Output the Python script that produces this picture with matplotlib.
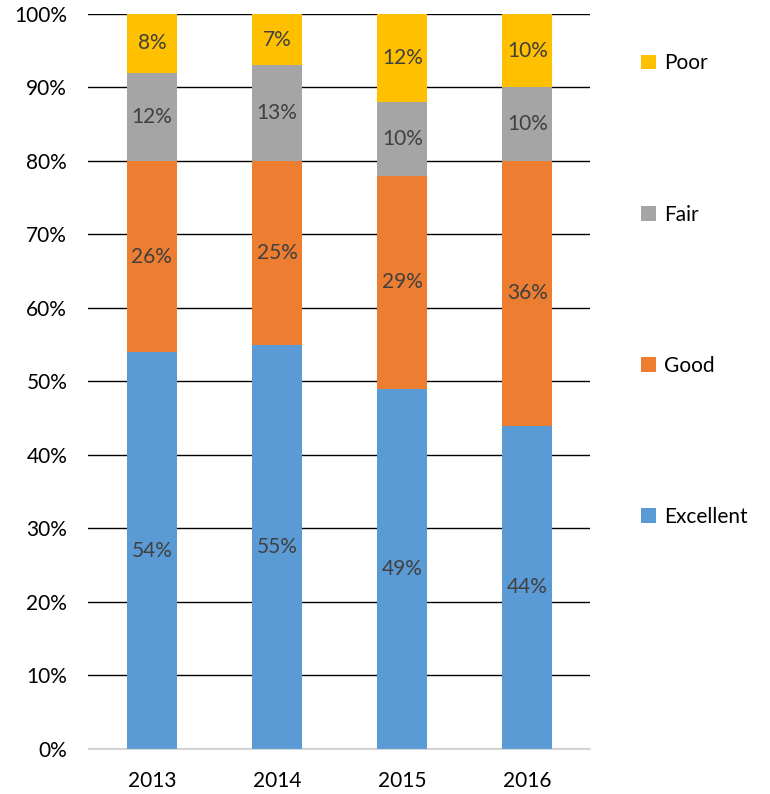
import matplotlib.pyplot as plt
import numpy as np

plt.rcParams['font.family'] = ['Lato', 'DejaVu Sans']

years = ['2013', '2014', '2015', '2016']
excellent = [54, 55, 49, 44]
good = [26, 25, 29, 36]
fair = [12, 13, 10, 10]
poor = [8, 7, 12, 10]

series = [('Excellent', excellent, '#5b9bd5'),
          ('Good', good, '#ed7d31'),
          ('Fair', fair, '#a5a5a5'),
          ('Poor', poor, '#ffc000')]

fig = plt.figure(figsize=(7.7, 7.94), dpi=100)
ax = fig.add_axes([0.1143, 0.0567, 0.652, 0.9257])

x = np.arange(len(years))
bottom = np.zeros(len(years))
handles = []
for name, vals, col in series:
    b = ax.bar(x, vals, width=0.4, bottom=bottom, color=col, label=name, zorder=3)
    handles.append(b)
    for xi, v, bt in zip(x, vals, bottom):
        ax.text(xi, bt + v / 2, '%d%%' % v, ha='center', va='center',
                fontsize=15, color='#404040', zorder=4)
    bottom += np.array(vals)

ax.set_xlim(-0.51, 3.5)
ax.set_ylim(0, 100)
ax.set_yticks(np.arange(0, 101, 10))
ax.set_yticklabels(['%d%%' % t for t in range(0, 101, 10)])
ax.set_xticks(x)
ax.set_xticklabels(years)
ax.yaxis.grid(True, color='black', linewidth=1, zorder=0)
ax.tick_params(length=0, labelsize=15, colors='black')
ax.tick_params(axis='x', pad=16)
ax.tick_params(axis='y', pad=15)
for s in ['top', 'right', 'left']:
    ax.spines[s].set_visible(False)
ax.spines['bottom'].set_color('#d9d9d9')
ax.spines['bottom'].set_zorder(5)

leg = ax.legend(handles=handles[::-1], loc='upper left', bbox_to_anchor=(1.065, 0.972),
                frameon=False, fontsize=15, labelspacing=6.3,
                handlelength=0.7, handleheight=0.7, handletextpad=0.4)

fig.savefig('out.png', dpi=100)
